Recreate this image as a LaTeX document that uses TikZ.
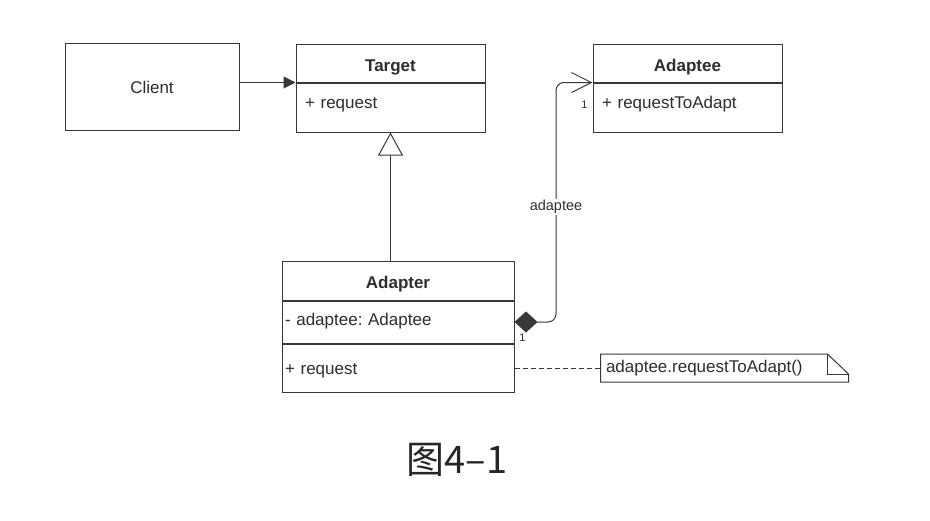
\documentclass[tikz,border=0pt]{standalone}
\usepackage{fontspec}
\setmainfont{Liberation Sans}
\newfontfamily\cjk{Noto Sans CJK SC}
\usetikzlibrary{arrows.meta, positioning, calc}
\frenchspacing

\tikzset{
  umlline/.style={draw=black!78, line width=1pt},
  umlbox/.style={umlline, inner sep=0pt, text=black!82, font=\fontsize{17}{20}\selectfont},
  classhead/.style={umlbox, minimum width=189pt, text height=27pt, text depth=11pt, font=\fontsize{17}{20}\selectfont\bfseries},
  classbody/.style={umlbox, minimum width=189pt, text width=171pt, align=left, text height=25pt, text depth=24pt},
  edgelabel/.style={fill=white, inner sep=1pt, text=black!82, font=\fontsize{14.5}{17}\selectfont},
  mult/.style={inner sep=0pt, text=black!82, font=\fontsize{11}{13}\selectfont}
}

\begin{document}
\begin{tikzpicture}[x=1pt, y=-1pt]
            % Fond blanc aux dimensions de l'image
            \fill[white] (0,0) rectangle (930,520);
            \useasboundingbox (0,0) rectangle (930,520);
            % Client
            \node[umlbox, minimum width=174pt, minimum height=87pt] (client) at (152,87) {Client};
            % Classe Target
            \node[classhead] (target) at (390.5,63) {Target};
            \node[classbody, below=0pt of target] (targetOps) {+ request};
            % Classe Adaptee
            \node[classhead] (adaptee) at (687.5,63) {Adaptee};
            \node[classbody, below=0pt of adaptee] (adapteeOps) {+ requestToAdapt};
            % Classe Adapter (3 compartiments)
            \node[classhead, minimum width=232pt, text height=27pt, text depth=12pt] (adapter) at (398,280.5) {Adapter};
            \node[classbody, below=0pt of adapter, minimum width=232pt, text width=226pt, text height=24pt, text depth=18pt] (adapterAttr) {- adaptee: Adaptee};
            \node[classbody, below=0pt of adapterAttr, minimum width=232pt, text width=226pt, text height=30pt, text depth=18pt] (adapterOps) {+ request};
            % Note, à droite de l'Adapter
            \node[umlbox, draw=none, anchor=west, minimum width=247pt, minimum height=27pt, text width=237pt, align=left] (note) at ($(adapterOps.east)+(86,0)$) {adaptee.requestToAdapt()};
            \draw[umlline] (note.north west) -- ([xshift=-21pt]note.north east) -- ([yshift=-20pt]note.north east) -- (note.south east) -- (note.south west) -- cycle;
            \draw[umlline] ([xshift=-21pt]note.north east) -- ([xshift=-21pt,yshift=-20pt]note.north east) -- ([yshift=-20pt]note.north east);
            % Client -> Target
            \draw[umlline, -{Triangle[length=12pt,width=12pt]}] (client.east |- target.south) -- (target.south west);
            % Héritage Adapter -> Target
            \draw[umlline, -{Triangle[open,length=23pt,width=25pt,fill=white]}] (target.south |- adapter.north) -- (targetOps.south);
            % Composition Adapter -> Adaptee
            \coordinate (bend) at (556,207);
            \draw[umlline, rounded corners=8pt, {Diamond[length=23pt,width=21pt]}-{Straight Barb[length=20pt,width=20pt]}] (adapterAttr.east) -| (bend) |- (adapteeOps.north west);
            \node[edgelabel] (roleLabel) at (bend) {adaptee};
            \node[mult] (multAdaptee) at ([xshift=-8pt,yshift=-22pt]adapteeOps.north west) {1};
            \node[mult] (multAdapter) at ([xshift=8pt,yshift=-16pt]adapterAttr.east) {1};
            % Lien vers la note
            \draw[umlline, dash pattern=on 5pt off 3pt] (adapterOps.east) -- (note.west);
            % Légende
            \node[text=black!85, font=\cjk\fontsize{38}{44}\selectfont] (caption) at (457,460) {图4–1};
        \end{tikzpicture}
\end{document}
